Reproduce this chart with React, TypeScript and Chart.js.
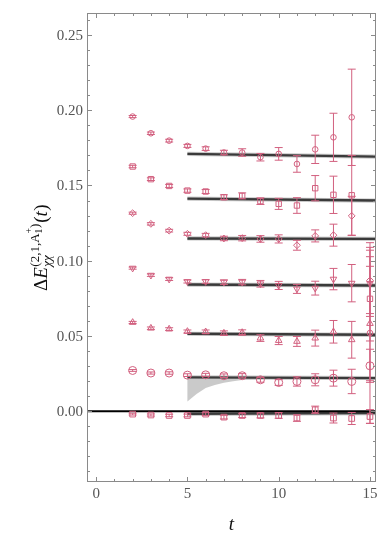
import React, { useEffect, useRef } from 'react';
import { Chart, registerables } from 'chart.js';

Chart.register(...registerables);

// ---- data ----
const T = [2, 3, 4, 5, 6, 7, 8, 9, 10, 11, 12, 13, 14, 15];

const S0 = [-0.0019, -0.0025, -0.0028, -0.0028, -0.0019, -0.0039, -0.0028, -0.0028, -0.0028, -0.0045, 0.001, -0.0045, -0.0048, -0.0035];
const E0 = [0.0006, 0.0007, 0.0008, 0.0009, 0.001, 0.0012, 0.0014, 0.0016, 0.0019, 0.0022, 0.0024, 0.0033, 0.004, 0.0046];

const S1 = [0.0271, 0.0254, 0.0254, 0.024, 0.0242, 0.0236, 0.0236, 0.0209, 0.0191, 0.0198, 0.0209, 0.022, 0.0198, 0.0302];
const E1 = [0.0006, 0.0007, 0.0008, 0.0009, 0.001, 0.0012, 0.0014, 0.0016, 0.0019, 0.0031, 0.004, 0.0053, 0.0081, 0.011];

const S2 = [0.059, 0.0552, 0.0546, 0.053, 0.0528, 0.0519, 0.0523, 0.0486, 0.047, 0.0464, 0.0486, 0.0528, 0.0475, 0.0583];
const E2 = [0.0007, 0.0008, 0.0009, 0.001, 0.0012, 0.0015, 0.0018, 0.0022, 0.0027, 0.0033, 0.0053, 0.0075, 0.0122, 0.038];

const S3 = [0.0951, 0.0904, 0.0878, 0.0862, 0.0862, 0.0858, 0.0858, 0.0847, 0.0836, 0.0813, 0.0818, 0.0878, 0.0851, 0.085];
const E3 = [0.0007, 0.0008, 0.0009, 0.001, 0.0012, 0.0015, 0.0018, 0.0022, 0.0027, 0.003, 0.0046, 0.0071, 0.0124, 0.022];

const S4 = [0.1316, 0.1245, 0.12, 0.1179, 0.117, 0.1148, 0.115, 0.1145, 0.1145, 0.1103, 0.1165, 0.117, 0.1298, 0.0869];
const E4 = [0.0007, 0.0008, 0.0009, 0.001, 0.0012, 0.0015, 0.0018, 0.0022, 0.0027, 0.0033, 0.004, 0.0073, 0.013, 0.022];

const S5 = [0.1626, 0.1542, 0.1497, 0.1466, 0.146, 0.1422, 0.1431, 0.1396, 0.1378, 0.1367, 0.1482, 0.1438, 0.1435, 0.0747];
const E5 = [0.0008, 0.0009, 0.001, 0.0011, 0.0013, 0.0016, 0.002, 0.0022, 0.0037, 0.0052, 0.0084, 0.0124, 0.0265, 0.028];

const S6 = [0.1958, 0.1847, 0.1798, 0.1763, 0.1745, 0.1719, 0.1719, 0.1688, 0.171, 0.1643, 0.174, 0.182, 0.1953, 0.052];
const E6 = [0.0007, 0.0008, 0.0009, 0.001, 0.0012, 0.0015, 0.0025, 0.0025, 0.0042, 0.0055, 0.0094, 0.016, 0.032, 0.06];

const SERIES = [S0, S1, S2, S3, S4, S5, S6];
const ERRORS = [E0, E1, E2, E3, E4, E5, E6];
const MARKERS = ['rect', 'circle', 'triangle', 'triangle', 'rectRot', 'rect', 'circle'];
const MARKER_ROT = [0, 0, 0, 180, 0, 0, 0];
const MARKER_R = [4, 4, 3.8, 3.8, 3.4, 3.8, 2.8];

// fit plateaus: [value at start, value at end]
const FIT_T = [5, 15.33];
const FIT_V = [
  [-0.0017, -0.0012],
  [0.0225, 0.022],
  [0.0515, 0.0508],
  [0.0842, 0.0836],
  [0.1148, 0.1145],
  [0.1413, 0.14],
  [0.171, 0.1692],
];
const FIT_HALF = 0.0014;

// lower edge of wide band for the second plateau
const WEDGE_T = [5, 5.5, 6, 6.5, 7, 7.5, 8, 9, 15.33];
const WEDGE_V = [0.0065, 0.0115, 0.0155, 0.0175, 0.019, 0.02, 0.0207, 0.0209, 0.0208];

const X_MIN = -0.5;
const X_MAX = 15.33;
const Y_MIN = -0.047;
const Y_MAX = 0.2646;
const X_TICKS = [0, 5, 10, 15];
const Y_TICKS = [0, 0.05, 0.1, 0.15, 0.2, 0.25];

const PT_COLOR = '#d2607f';
const FRAME = '#8a8a8a';
const LABEL = '#555555';
const SERIF = '"Liberation Serif", "DejaVu Serif", serif';

export default function App() {
  const ref = useRef<HTMLCanvasElement | null>(null);

  useEffect(() => {
    const canvas = ref.current;
    if (!canvas) return;

    const datasets: any[] = [];

    // bands (polygons)
    FIT_V.forEach((fv, i) => {
      let poly: { x: number; y: number }[];
      if (i === 1) {
        poly = [
          { x: FIT_T[0], y: fv[0] + FIT_HALF },
          { x: FIT_T[1], y: fv[1] + FIT_HALF },
        ];
        for (let k = WEDGE_T.length - 1; k >= 0; k--) poly.push({ x: WEDGE_T[k], y: WEDGE_V[k] });
      } else {
        poly = [
          { x: FIT_T[0], y: fv[0] + FIT_HALF },
          { x: FIT_T[1], y: fv[1] + FIT_HALF },
          { x: FIT_T[1], y: fv[1] - FIT_HALF },
          { x: FIT_T[0], y: fv[0] - FIT_HALF },
        ];
      }
      datasets.push({
        type: 'line',
        data: poly,
        borderWidth: 0,
        borderColor: 'rgba(0,0,0,0)',
        backgroundColor: 'rgba(150,150,150,0.5)',
        fill: 'shape',
        pointRadius: 0,
        order: 20,
      });
    });

    // central fit lines
    FIT_V.forEach((fv) => {
      datasets.push({
        type: 'line',
        data: [
          { x: FIT_T[0], y: fv[0] },
          { x: FIT_T[1], y: fv[1] },
        ],
        borderWidth: 2.4,
        borderColor: '#3a3a3a',
        fill: false,
        pointRadius: 0,
        order: 10,
      });
    });

    // zero line
    datasets.push({
      type: 'line',
      data: [
        { x: X_MIN, y: 0 },
        { x: X_MAX, y: 0 },
      ],
      borderWidth: 2.2,
      borderColor: '#000000',
      fill: false,
      pointRadius: 0,
      order: 9,
    });

    // data points
    SERIES.forEach((s, i) => {
      datasets.push({
        type: 'scatter',
        data: T.map((t, k) => ({ x: t, y: s[k] })),
        errs: ERRORS[i],
        pointStyle: MARKERS[i],
        rotation: MARKER_ROT[i],
        pointRadius: MARKER_R[i],
        borderColor: PT_COLOR,
        backgroundColor: 'rgba(0,0,0,0)',
        borderWidth: 1,
        order: 1,
      });
    });

    const errorBars = {
      id: 'errorBars',
      afterDatasetsDraw(chart: any) {
        const { ctx, chartArea, scales } = chart;
        const xs = scales.x;
        const ys = scales.y;
        ctx.save();
        ctx.beginPath();
        ctx.rect(chartArea.left, chartArea.top, chartArea.right - chartArea.left, chartArea.bottom - chartArea.top);
        ctx.clip();
        ctx.strokeStyle = PT_COLOR;
        ctx.lineWidth = 1;
        chart.data.datasets.forEach((ds: any) => {
          if (!ds.errs) return;
          ds.data.forEach((p: any, k: number) => {
            const e = ds.errs[k];
            const px = xs.getPixelForValue(p.x);
            const y1 = ys.getPixelForValue(p.y + e);
            const y2 = ys.getPixelForValue(p.y - e);
            ctx.beginPath();
            ctx.moveTo(px, y1);
            ctx.lineTo(px, y2);
            ctx.moveTo(px - 4, y1);
            ctx.lineTo(px + 4, y1);
            ctx.moveTo(px - 4, y2);
            ctx.lineTo(px + 4, y2);
            ctx.stroke();
          });
        });
        ctx.restore();
      },
    };

    const frame = {
      id: 'frame',
      afterDraw(chart: any) {
        const { ctx, chartArea, scales } = chart;
        const xs = scales.x;
        const ys = scales.y;
        const { left, right, top, bottom } = chartArea;
        ctx.save();
        ctx.strokeStyle = FRAME;
        ctx.lineWidth = 1;
        ctx.strokeRect(left + 0.5, top + 0.5, right - left - 1, bottom - top - 1);
        ctx.beginPath();
        for (let v = 0; v <= 15; v += 1) {
          const px = Math.round(xs.getPixelForValue(v)) + 0.5;
          const len = v % 5 === 0 ? 5 : 3;
          ctx.moveTo(px, bottom);
          ctx.lineTo(px, bottom - len);
          ctx.moveTo(px, top);
          ctx.lineTo(px, top + len);
        }
        for (let k = -4; k <= 26; k++) {
          const v = k / 100;
          const py = Math.round(ys.getPixelForValue(v)) + 0.5;
          if (py < top || py > bottom) continue;
          const len = k % 5 === 0 ? 5 : 3;
          ctx.moveTo(left, py);
          ctx.lineTo(left + len, py);
          ctx.moveTo(right, py);
          ctx.lineTo(right - len, py);
        }
        ctx.stroke();

        ctx.fillStyle = LABEL;
        ctx.font = `15px ${SERIF}`;
        ctx.textAlign = 'right';
        ctx.textBaseline = 'middle';
        Y_TICKS.forEach((v) => {
          ctx.fillText(v.toFixed(2), left - 4, ys.getPixelForValue(v) + 1);
        });
        ctx.textAlign = 'center';
        X_TICKS.forEach((v) => {
          ctx.fillText(String(v), xs.getPixelForValue(v), bottom + 12);
        });

        // x title
        ctx.fillStyle = '#111';
        ctx.font = `italic 19px ${SERIF}`;
        ctx.textBaseline = 'alphabetic';
        ctx.fillText('t', (left + right) / 2, 530);

        // y title
        ctx.save();
        ctx.translate(47, 291);
        ctx.rotate(-Math.PI / 2);
        ctx.textAlign = 'left';
        ctx.textBaseline = 'alphabetic';
        let x = 0;
        ctx.font = `19px ${SERIF}`;
        ctx.fillText('Δ', x, 0);
        x += ctx.measureText('Δ').width;
        ctx.font = `italic 19px ${SERIF}`;
        ctx.fillText('E', x, 0);
        x += ctx.measureText('E').width + 0.5;
        const xs0 = x;
        // superscript
        ctx.font = `13px ${SERIF}`;
        ctx.fillText('(2,1,A', x, -8);
        let xsup = x + ctx.measureText('(2,1,A').width;
        ctx.font = `9.5px ${SERIF}`;
        ctx.fillText('1', xsup, -5);
        ctx.fillText('+', xsup, -15);
        xsup += ctx.measureText('+').width;
        ctx.font = `13px ${SERIF}`;
        ctx.fillText(')', xsup, -8);
        xsup += ctx.measureText(')').width;
        // subscript
        ctx.font = `italic 13px ${SERIF}`;
        ctx.fillText('χχ', xs0, 4);
        const xsub = xs0 + ctx.measureText('χχ').width;
        x = Math.max(xsup, xsub) + 1;
        ctx.font = `19px ${SERIF}`;
        ctx.fillText('(', x, 0);
        x += ctx.measureText('(').width;
        ctx.font = `italic 19px ${SERIF}`;
        ctx.fillText('t', x, 0);
        x += ctx.measureText('t').width + 0.5;
        ctx.font = `19px ${SERIF}`;
        ctx.fillText(')', x, 0);
        ctx.restore();

        ctx.restore();
      },
    };

    const chart = new Chart(canvas, {
      type: 'scatter',
      data: { datasets },
      options: {
        responsive: false,
        animation: false,
        devicePixelRatio: 1,
        layout: { padding: { left: 87, top: 13, right: 14, bottom: 57 } },
        plugins: { legend: { display: false }, tooltip: { enabled: false } },
        elements: { line: { tension: 0 } },
        scales: {
          x: { type: 'linear', min: X_MIN, max: X_MAX, display: false },
          y: { type: 'linear', min: Y_MIN, max: Y_MAX, display: false },
        },
      } as any,
      plugins: [errorBars, frame],
    });

    return () => chart.destroy();
  }, []);

  return (
    <div style={{ position: 'absolute', left: 0, top: 0, width: 390, height: 539, background: '#fff' }}>
      <canvas ref={ref} width={390} height={539} style={{ display: 'block' }} />
    </div>
  );
}
